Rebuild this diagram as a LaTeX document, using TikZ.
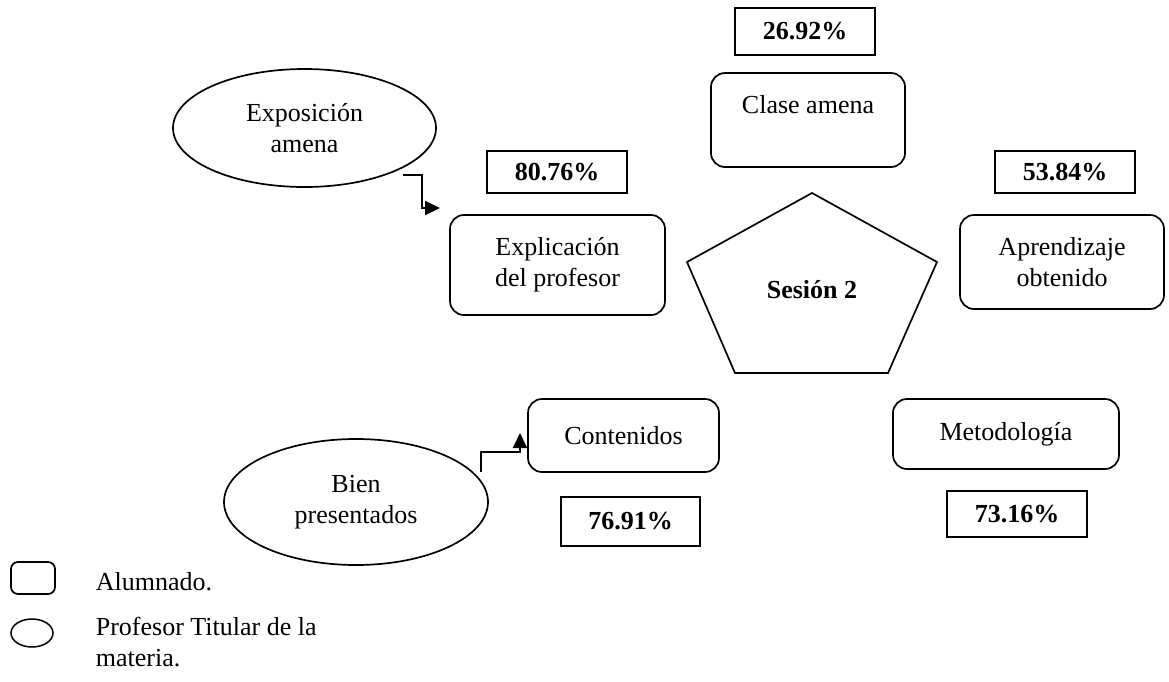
\documentclass[tikz,border=0pt]{standalone}
\usepackage{fontspec}
\setmainfont{Liberation Serif}
\usepackage{tikz}
\usetikzlibrary{positioning, arrows.meta, calc, shapes.geometric}

\begin{document}
\begin{tikzpicture}[
        x=1pt, y=-1pt,
        line width=1.7pt,
        every node/.style={font=\fontsize{26}{31}\selectfont, inner sep=0pt, align=center},
        alumno/.style={rectangle, rounded corners=14pt, draw},
        profesor/.style={ellipse, draw},
        pct/.style={rectangle, draw, font=\fontsize{26}{31}\selectfont\bfseries},
        arr/.style={-{Triangle[length=15pt, width=14pt]}, line width=2pt}
      ]
      \useasboundingbox (0,0) rectangle (1169,681);

      % Sesión central
      \coordinate (p1) at (812,193);
      \coordinate (p2) at (937,262);
      \coordinate (p3) at (888,373);
      \coordinate (p4) at (735,373);
      \coordinate (p5) at (687,262);
      \draw (p1) -- (p2) -- (p3) -- (p4) -- (p5) -- cycle;
      \node (sesion) at (812,290) {\textbf{Sesión 2}};

      % alumnado
      \node[pct, minimum width=140pt, minimum height=47pt] (pclase) at (805,31.5) {26.92\%};
      \node[alumno, minimum width=194pt, minimum height=94pt] (clase) at (808,120) {Clase amena\\~};

      \node[pct, minimum width=140pt, minimum height=42pt] (pexpl) at (557,172) {80.76\%};
      \node[alumno, minimum width=215pt, minimum height=100pt] (expl) at (557.5,265) {Explicación\\del profesor};

      \node[pct, minimum width=140pt, minimum height=42pt] (paprend) at (1065,172) {53.84\%};
      \node[alumno, minimum width=204pt, minimum height=94pt] (aprend) at (1062,262) {Aprendizaje\\obtenido};

      \node[alumno, minimum width=191pt, minimum height=73pt] (cont) at (623.5,435.5) {Contenidos};
      \node[pct, minimum width=139pt, minimum height=49pt] (pcont) at (630.5,521.5) {76.91\%};

      \node[alumno, minimum width=226pt, minimum height=70pt] (metod) at (1006,434) {Metodología};
      \node[pct, minimum width=140pt, minimum height=46pt] (pmetod) at (1017,514) {73.16\%};

      % profesor
      \node[profesor, minimum width=263pt, minimum height=118pt] (expo) at (304.5,128) {Exposición\\amena};
      \node[profesor, minimum width=264pt, minimum height=126pt] (bien) at (356,502) {Bien\\presentados};

      \coordinate (a1s) at (403,175);
      \coordinate (a1e) at (440,208);
      \draw[arr] (a1s) -| ($(a1e)+(-18,0)$) -- (a1e);

      \coordinate (a2s) at (481,472);
      \coordinate (a2e) at (520,433);
      \draw[arr] (a2s) |- ($(a2e)+(0,19)$) -- (a2e);

      % leyenda
      \node[alumno, rounded corners=7pt, minimum width=44pt, minimum height=32pt] (lalumno) at (33,578) {};
      \node[anchor=west] (talumno) at (95,582) {Alumnado.};
      \node[profesor, line width=1.5pt, minimum width=42pt, minimum height=28pt] (lprof) at (32,633) {};
      \node[anchor=north west, align=left] (tprof) at (95,616) {Profesor Titular de la\\materia.};
    \end{tikzpicture}
\end{document}
